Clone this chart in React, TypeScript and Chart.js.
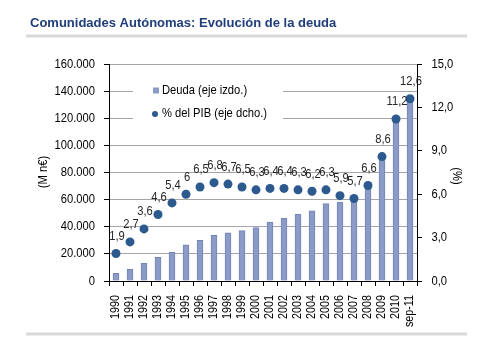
import React, { useEffect, useRef } from "react";
import { Chart, registerables } from "chart.js";

Chart.register(...registerables);

const categories = ["1990", "1991", "1992", "1993", "1994", "1995", "1996", "1997", "1998", "1999", "2000", "2001", "2002", "2003", "2004", "2005", "2006", "2007", "2008", "2009", "2010", "sep-11"];
const deuda = [5700, 8600, 13000, 17500, 21400, 26600, 30000, 33700, 35600, 37100, 39300, 43500, 46300, 49200, 51700, 57000, 58100, 59800, 71000, 91500, 119500, 134500];
const pib = [1.9, 2.7, 3.6, 4.6, 5.4, 6, 6.5, 6.8, 6.7, 6.5, 6.3, 6.4, 6.4, 6.3, 6.2, 6.3, 5.9, 5.7, 6.6, 8.6, 11.2, 12.6];

const title = "Comunidades Autónomas: Evolución de la deuda";
const legendLabels = ["Deuda (eje izdo.)", "% del PIB (eje dcho.)"];
const leftTitle = "(M n€)";
const rightTitle = "(%)";

const FONT = "'Liberation Sans', Arial, sans-serif";
const SQUEEZE = 0.86;
const BAR_COLOR = "#8b9bc6";
const BAR_BORDER = "#7385b6";
const DOT_COLOR = "#2c5a8e";

const fmtThousands = (v: number) => String(v).replace(/\B(?=(\d{3})+(?!\d))/g, ".");
const fmtComma = (v: number) => String(v).replace(".", ",");

function squeezedText(ctx: any, text: string, x: number, y: number, align: string, baseline: string, rot = 0) {
  ctx.save();
  ctx.translate(x, y);
  if (rot) ctx.rotate(rot);
  ctx.scale(SQUEEZE, 1);
  ctx.textAlign = align;
  ctx.textBaseline = baseline;
  ctx.fillText(text, 0, 0);
  ctx.restore();
}

const decor = {
  id: "decor",
  beforeDraw(chart: any) {
    const ctx = chart.ctx;
    ctx.save();
    ctx.fillStyle = "#ffffff";
    ctx.fillRect(0, 0, chart.width, chart.height);
    ctx.fillStyle = "#1f3d7a";
    ctx.font = "bold 13px 'Liberation Sans', Arial, sans-serif";
    ctx.textAlign = "left";
    ctx.textBaseline = "alphabetic";
    ctx.fillText(title, 30, 26.5);
    ctx.fillStyle = "#d9d9d9";
    ctx.fillRect(26, 34.5, 441, 3);
    ctx.fillRect(26, 332.5, 441, 3);
    ctx.restore();
  },
  beforeDatasetsDraw(chart: any) {
    const ctx = chart.ctx;
    ctx.save();
    // legend
    ctx.fillStyle = "#ffffff";
    ctx.fillRect(133, 82, 150, 42);
    ctx.fillStyle = BAR_COLOR;
    ctx.fillRect(153, 87.5, 6, 6);
    ctx.fillStyle = DOT_COLOR;
    ctx.beginPath();
    ctx.arc(155, 114, 3, 0, Math.PI * 2);
    ctx.fill();
    ctx.fillStyle = "#000000";
    ctx.font = "13px " + FONT;
    squeezedText(ctx, legendLabels[0], 162, 90.5, "left", "middle");
    squeezedText(ctx, legendLabels[1], 162, 113.5, "left", "middle");
    // axis titles
    squeezedText(ctx, leftTitle, 43, 172, "center", "middle", -Math.PI / 2);
    squeezedText(ctx, rightTitle, 456.5, 176, "center", "middle", Math.PI / 2);
    ctx.restore();
  },
  afterDatasetsDraw(chart: any) {
    const ctx = chart.ctx;
    const meta = chart.getDatasetMeta(1);
    ctx.save();
    ctx.fillStyle = "#262626";
    ctx.font = "13px " + FONT;
    meta.data.forEach((pt: any, i: number) => {
      squeezedText(ctx, fmtComma(pib[i]), pt.x + 1, pt.y - 13.5, "center", "alphabetic");
    });
    // tick labels
    ctx.fillStyle = "#000000";
    const y = chart.scales.y;
    y.ticks.forEach((t: any, i: number) => {
      squeezedText(ctx, fmtThousands(t.value), 95, y.getPixelForTick(i), "right", "middle");
    });
    const y1 = chart.scales.y1;
    y1.ticks.forEach((t: any, i: number) => {
      squeezedText(ctx, Number(t.value).toFixed(1).replace(".", ","), 431.5, y1.getPixelForTick(i), "left", "middle");
    });
    const x = chart.scales.x;
    ctx.font = "12.5px " + FONT;
    x.ticks.forEach((t: any, i: number) => {
      squeezedText(ctx, categories[i], x.getPixelForTick(i), 295, "right", "middle", -Math.PI / 2);
    });
    ctx.restore();
  },
};

export default function App() {
  const ref = useRef<HTMLCanvasElement | null>(null);
  useEffect(() => {
    if (!ref.current) return;
    const chart = new Chart(ref.current, {
      type: "bar",
      data: {
        labels: categories,
        datasets: [
          {
            type: "bar",
            label: legendLabels[0],
            data: deuda,
            yAxisID: "y",
            backgroundColor: BAR_COLOR,
            borderColor: BAR_BORDER,
            borderWidth: 1,
            barThickness: 6,
            order: 1,
          },
          {
            type: "line",
            label: legendLabels[1],
            data: pib,
            yAxisID: "y1",
            showLine: false,
            pointRadius: 4.5,
            pointBackgroundColor: DOT_COLOR,
            pointBorderColor: DOT_COLOR,
            pointBorderWidth: 0,
            order: 0,
          },
        ],
      },
      options: {
        responsive: false,
        animation: false,
        layout: { padding: { top: 64, left: 0, right: 0, bottom: 0 } },
        plugins: { legend: { display: false }, tooltip: { enabled: false }, title: { display: false } },
        scales: {
          x: {
            offset: true,
            grid: { display: true, drawOnChartArea: false, tickLength: 5, tickColor: "#000", offset: true },
            border: { color: "#000", width: 1 },
            ticks: { display: false, autoSkip: false },
            afterFit: (s: any) => { s.height = 344 - 281; },
          },
          y: {
            position: "left",
            min: 0,
            max: 160000,
            ticks: { display: false, stepSize: 20000 },
            grid: { color: "#a6a6a6", tickColor: "#000", tickLength: 5 },
            border: { color: "#000", width: 1 },
            afterFit: (s: any) => { s.width = 109; },
          },
          y1: {
            position: "right",
            min: 0,
            max: 15,
            ticks: { display: false, stepSize: 3 },
            grid: { drawOnChartArea: false, tickColor: "#000", tickLength: 5 },
            border: { color: "#000", width: 1 },
            afterFit: (s: any) => { s.width = 498 - 417; },
          },
        },
      },
      plugins: [decor],
    } as any);
    return () => chart.destroy();
  }, []);
  return (
    <div style={{ position: "fixed", left: 0, top: 0, width: 498, height: 344, background: "#fff" }}>
      <canvas ref={ref} width={498} height={344} style={{ display: "block", width: 498, height: 344 }} />
    </div>
  );
}
